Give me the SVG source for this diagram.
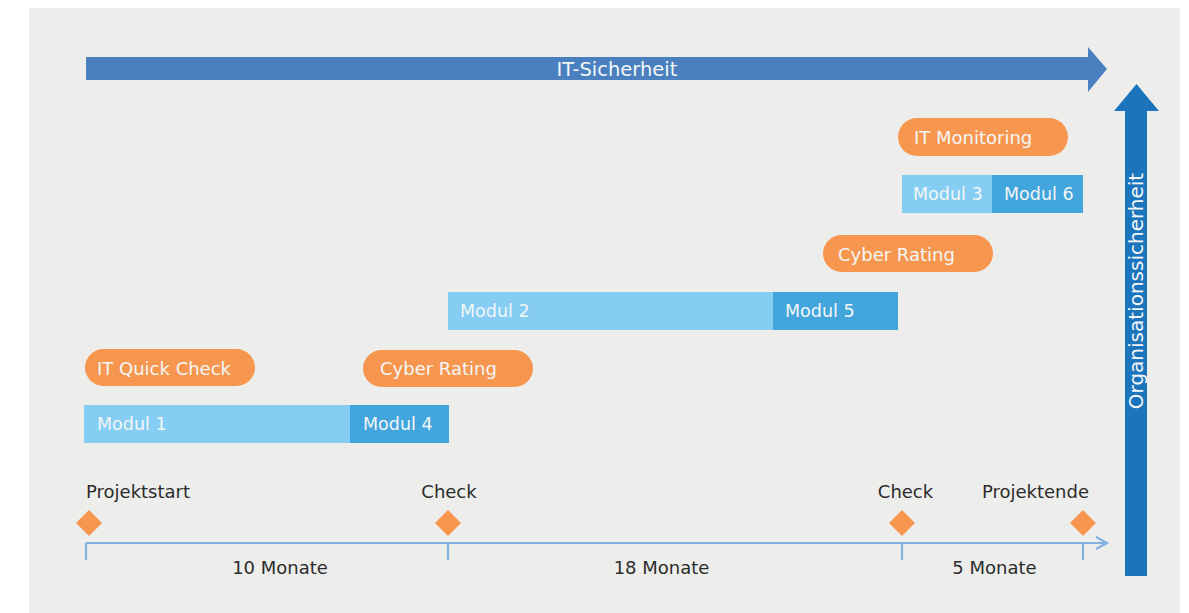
<svg xmlns="http://www.w3.org/2000/svg" width="1189" height="613" viewBox="0 0 1189 613">
<defs>
<style>
.bg{fill:#edeeec}
.pill{fill:#f7964f}
.m1{fill:#85cdf3}
.m2{fill:#42a5dc}
.wt{font-family:"DejaVu Sans","Noto Sans",sans-serif;font-size:18px;fill:#f3f6f6}
.mt{font-family:"DejaVu Sans","Noto Sans",sans-serif;font-size:17.5px;fill:#f3f6f6}
.at{font-family:"DejaVu Sans","Noto Sans",sans-serif;font-size:19.5px;fill:#f3f6f6}
.dt{font-family:"DejaVu Sans","Noto Sans",sans-serif;font-size:18px;fill:#2b2b2b}
.dia{fill:#f7964f}
.ax{stroke:#80b1df;stroke-width:2.2;fill:none}
</style>
</defs>
<rect class="bg" x="29" y="8" width="1151" height="605"/>
<g id="it-sicherheit">
<path d="M86,57 H1088 V47 L1107,69 L1088,92 V80 H86 Z" fill="#4a80c0"/>
<text class="at" x="617" y="76" text-anchor="middle">IT-Sicherheit</text>
</g>
<g id="organisationssicherheit">
<path d="M1125,576 V111 H1114 L1136.5,84 L1159,111 H1147 V576 Z" fill="#1c75bc"/>
<text class="at" transform="translate(1143,291) rotate(-90)" text-anchor="middle" style="font-size:20px">Organisationssicherheit</text>
</g>
<g id="it-quick-check">
<rect class="pill" x="85" y="349" width="170" height="37" rx="18.5"/>
<text class="wt" x="97" y="375">IT Quick Check</text>
</g>
<g id="cyber-rating-1">
<rect class="pill" x="363" y="350" width="170" height="37" rx="18.5"/>
<text class="wt" x="380" y="375">Cyber Rating</text>
</g>
<g id="modul-1">
<rect class="m1" x="84" y="405" width="266" height="38"/>
<text class="mt" x="97" y="430">Modul 1</text>
</g>
<g id="modul-4">
<rect class="m2" x="350" y="405" width="99" height="38"/>
<text class="mt" x="363" y="430">Modul 4</text>
</g>
<g id="cyber-rating-2">
<rect class="pill" x="823" y="235" width="170" height="37" rx="18.5"/>
<text class="wt" x="838" y="261">Cyber Rating</text>
</g>
<g id="modul-2">
<rect class="m1" x="448" y="292" width="325" height="38"/>
<text class="mt" x="460" y="317">Modul 2</text>
</g>
<g id="modul-5">
<rect class="m2" x="773" y="292" width="125" height="38"/>
<text class="mt" x="785" y="317">Modul 5</text>
</g>
<g id="it-monitoring">
<rect class="pill" x="898" y="118" width="170" height="38" rx="19"/>
<text class="wt" x="914" y="144">IT Monitoring</text>
</g>
<g id="modul-3">
<rect class="m1" x="902" y="175" width="90" height="38"/>
<text class="mt" x="913" y="200">Modul 3</text>
</g>
<g id="modul-6">
<rect class="m2" x="992" y="175" width="91" height="38"/>
<text class="mt" x="1004" y="200">Modul 6</text>
</g>
<g id="connectors">
<path class="ax" d="M86,543 H1107 M1096,537 L1107,543 L1096,549 M86,543 V560 M448,543 V560 M902,543 V560 M1083,543 V560"/>
</g>
<g id="projektstart">
<path class="dia" d="M89,510 L102,523 L89,536 L76,523 Z"/>
<text class="dt" x="86" y="498">Projektstart</text>
</g>
<g id="check-1">
<path class="dia" d="M448,510 L461,523 L448,536 L435,523 Z"/>
<text class="dt" x="449" y="498" text-anchor="middle">Check</text>
</g>
<g id="check-2">
<path class="dia" d="M902,510 L915,523 L902,536 L889,523 Z"/>
<text class="dt" x="905.5" y="498" text-anchor="middle">Check</text>
</g>
<g id="projektende">
<path class="dia" d="M1083,510 L1096,523 L1083,536 L1070,523 Z"/>
<text class="dt" x="1035.5" y="498" text-anchor="middle">Projektende</text>
</g>
<g id="durations">
<text class="dt" x="280" y="574" text-anchor="middle">10 Monate</text>
<text class="dt" x="661.5" y="574" text-anchor="middle">18 Monate</text>
<text class="dt" x="994.5" y="574" text-anchor="middle">5 Monate</text>
</g>
</svg>
